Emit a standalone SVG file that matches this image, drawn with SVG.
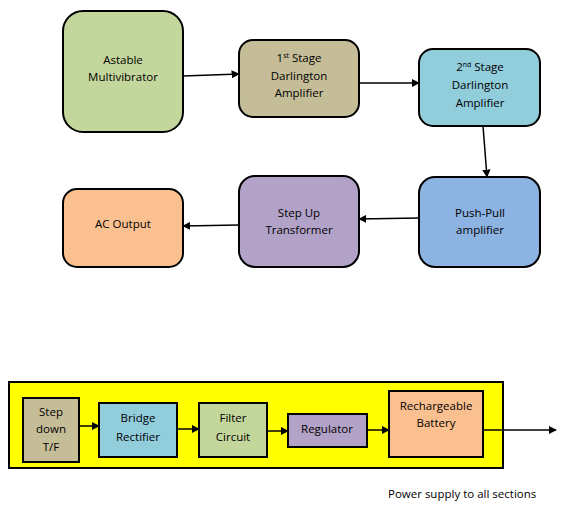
<svg xmlns="http://www.w3.org/2000/svg" width="572" height="509" viewBox="0 0 572 509">
<style>
.n{stroke:#000;stroke-width:2}
.t{font-family:"Open Sans","Liberation Sans",sans-serif;font-size:11.5px;fill:#000;text-anchor:middle}
.sup{font-size:7px}
.c{stroke:#000;stroke-width:1.5;fill:none;marker-end:url(#ah)}
</style>
<defs>
<marker id="ah" viewBox="0 0 10 10" refX="9" refY="5" markerWidth="5.5" markerHeight="5.5" orient="auto" markerUnits="strokeWidth">
<path d="M0,0 L10,5 L0,10 z" fill="#000"/>
</marker>
</defs>
<rect width="572" height="509" fill="#fff"/>
<g id="astable"><rect class="n" x="63" y="11" width="120" height="121" rx="20" fill="#C3D69B"/>
<text class="t" x="123" y="64">Astable</text><text class="t" x="123" y="81">Multivibrator</text></g>
<g id="stage1"><rect class="n" x="239" y="40" width="120" height="77" rx="14" fill="#C4BD97"/>
<text class="t" x="299" y="62">1<tspan class="sup" dy="-4">st</tspan><tspan dy="4"> Stage</tspan></text><text class="t" x="299" y="80">Darlington</text><text class="t" x="299" y="97">Amplifier</text></g>
<g id="stage2"><rect class="n" x="419" y="49" width="121" height="77" rx="14" fill="#92CDDC"/>
<text class="t" x="480" y="71">2<tspan class="sup" dy="-4">nd</tspan><tspan dy="4"> Stage</tspan></text><text class="t" x="480" y="89">Darlington</text><text class="t" x="480" y="107">Amplifier</text></g>
<g id="pushpull"><rect class="n" x="419" y="177" width="121" height="90" rx="16" fill="#8DB3E2"/>
<text class="t" x="480" y="217">Push-Pull</text><text class="t" x="480" y="234">amplifier</text></g>
<g id="stepup"><rect class="n" x="239" y="176" width="120" height="91" rx="16" fill="#B2A2C7"/>
<text class="t" x="299" y="217">Step Up</text><text class="t" x="299" y="234">Transformer</text></g>
<g id="acout"><rect class="n" x="63" y="189" width="120" height="78" rx="14" fill="#FAC090"/>
<text class="t" x="123" y="228">AC Output</text></g>
<g id="supply"><rect class="n" x="9" y="382" width="494" height="86" fill="#FFFF00"/></g>
<g id="stepdown"><rect class="n" x="23" y="398" width="56" height="64" fill="#C4BD97"/>
<text class="t" x="51" y="416">Step</text><text class="t" x="51" y="433">down</text><text class="t" x="51" y="451">T/F</text></g>
<g id="bridge"><rect class="n" x="99" y="403" width="78" height="54" fill="#92CDDC"/>
<text class="t" x="138" y="422">Bridge</text><text class="t" x="138" y="441">Rectifier</text></g>
<g id="filter"><rect class="n" x="199" y="403" width="68" height="54" fill="#C3D69B"/>
<text class="t" x="233" y="422">Filter</text><text class="t" x="233" y="441">Circuit</text></g>
<g id="regulator"><rect class="n" x="288" y="414" width="79" height="33" fill="#B2A2C7"/>
<text class="t" x="327" y="433">Regulator</text></g>
<g id="battery"><rect class="n" x="389" y="391" width="94" height="66" fill="#FAC090"/>
<text class="t" x="436" y="410">Rechargeable</text><text class="t" x="436" y="427">Battery</text></g>
<g id="connectors">
<path class="c" d="M183,76 L239,74"/>
<path class="c" d="M359,83 L419,83"/>
<path class="c" d="M483,126 L487,177"/>
<path class="c" d="M419,218 L359,219"/>
<path class="c" d="M239,225 L183,226"/>
<path class="c" d="M79,426 L99,426"/>
<path class="c" d="M177,429 L199,429"/>
<path class="c" d="M267,431 L288,431"/>
<path class="c" d="M367,430 L389,430"/>
<path class="c" d="M483,430 L556,430"/>
</g>
<text x="388" y="498" style="font-family:'Open Sans','Liberation Sans',sans-serif;font-size:11.5px;fill:#000">Power supply to all sections</text>
</svg>
